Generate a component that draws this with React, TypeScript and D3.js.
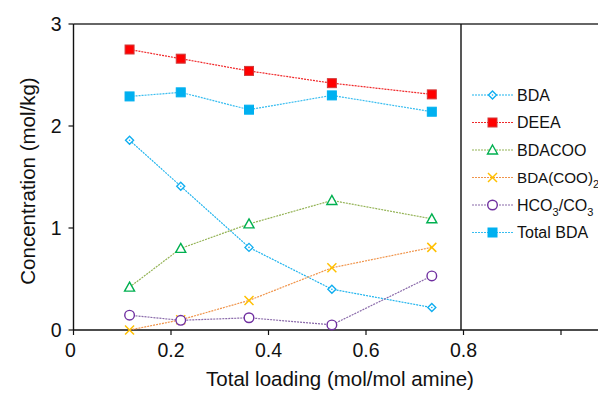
import React from "react";
import * as d3 from "d3";

const loading = [0.115, 0.22, 0.36, 0.53, 0.735];
const bda = [1.86, 1.41, 0.81, 0.4, 0.22];
const deea = [2.75, 2.66, 2.54, 2.42, 2.31];
const bdacoo = [0.42, 0.8, 1.04, 1.27, 1.09];
const bdacoo2 = [0.0, 0.1, 0.29, 0.61, 0.81];
const hco3 = [0.145, 0.095, 0.12, 0.05, 0.53];
const totalBda = [2.29, 2.33, 2.16, 2.3, 2.14];

const xTicks = [0, 0.2, 0.4, 0.6, 0.8, 1.0];
const xTickLabels = ["0", "0.2", "0.4", "0.6", "0.8", ""];
const yTicks = [0, 1, 2, 3];

type Series = {
  name: string;
  values: number[];
  line: string;
  marker: string;
  shape: "diamond" | "square" | "triangle" | "x" | "circle";
  filled: boolean;
};

const series: Series[] = [
  { name: "BDA", values: bda, line: "#1fb4ee", marker: "#10aef0", shape: "diamond", filled: false },
  { name: "DEEA", values: deea, line: "#f0282a", marker: "#ff0000", shape: "square", filled: true },
  { name: "BDACOO", values: bdacoo, line: "#94b356", marker: "#00b050", shape: "triangle", filled: false },
  { name: "BDA(COO)2", values: bdacoo2, line: "#f0944a", marker: "#ffc000", shape: "x", filled: false },
  { name: "HCO3/CO3", values: hco3, line: "#8a6aaa", marker: "#7030a0", shape: "circle", filled: false },
  { name: "Total BDA", values: totalBda, line: "#38bdf0", marker: "#00b0f0", shape: "square", filled: true },
];

const FONT = "'Liberation Sans', Arial, Helvetica, sans-serif";

function Marker({ s, cx, cy }: { s: Series; cx: number; cy: number }) {
  const c = s.marker;
  switch (s.shape) {
    case "diamond": {
      const r = 4;
      return (
        <g>
          <polygon
            points={`${cx},${cy - r} ${cx + r},${cy} ${cx},${cy + r} ${cx - r},${cy}`}
            fill="white"
            stroke={c}
            strokeWidth={1.4}
          />
          <circle cx={cx} cy={cy} r={0.8} fill={c} />
        </g>
      );
    }
    case "square": {
      const r = 4.5;
      return (
        <rect
          x={cx - r}
          y={cy - r}
          width={2 * r}
          height={2 * r}
          fill={c}
          stroke={s.name === "DEEA" ? "#d23a3a" : c}
          strokeWidth={1}
        />
      );
    }
    case "triangle": {
      const r = 5;
      return (
        <polygon
          points={`${cx},${cy - r} ${cx + r},${cy + r * 0.8} ${cx - r},${cy + r * 0.8}`}
          fill="white"
          stroke={c}
          strokeWidth={1.4}
        />
      );
    }
    case "x": {
      const r = 4.5;
      return (
        <g stroke={c} strokeWidth={1.5}>
          <line x1={cx - r} y1={cy - r} x2={cx + r} y2={cy + r} />
          <line x1={cx - r} y1={cy + r} x2={cx + r} y2={cy - r} />
        </g>
      );
    }
    case "circle":
      return <circle cx={cx} cy={cy} r={4.8} fill="white" stroke={c} strokeWidth={1.4} />;
  }
}

function LegendLabel({ name }: { name: string }) {
  if (name === "BDA(COO)2") {
    return (
      <>
        BDA(COO)
        <tspan dy={5} fontSize={11}>2</tspan>
      </>
    );
  }
  if (name === "HCO3/CO3") {
    return (
      <>
        HCO
        <tspan dy={5} fontSize={11}>3</tspan>
        <tspan dy={-5}>/CO</tspan>
        <tspan dy={5} fontSize={11}>3</tspan>
      </>
    );
  }
  return <>{name}</>;
}

export default function App() {
  const W = 598;
  const H = 394;
  const x = d3.scaleLinear().domain([0, 1]).range([73.5, 561]);
  const y = d3.scaleLinear().domain([0, 3]).range([330, 24]);
  const xEnd = 598;

  const lineGen = d3
    .line<[number, number]>()
    .x((d) => x(d[0]))
    .y((d) => y(d[1]));

  const legendY = [95, 122.5, 150, 177.5, 205, 232.5];

  return (
    <svg
      width={W}
      height={H}
      style={{ position: "absolute", left: 0, top: 0, background: "white" }}
      fontFamily={FONT}
    >
      <rect width={W} height={H} fill="white" />
      {/* frame */}
      <line x1={x(0)} y1={y(3)} x2={xEnd} y2={y(3)} stroke="#333" strokeWidth={1.6} />
      <line x1={x(0)} y1={y(0)} x2={xEnd} y2={y(0)} stroke="#111" strokeWidth={1.4} />
      <line x1={x(0)} y1={y(0)} x2={x(0)} y2={y(3)} stroke="#111" strokeWidth={1.4} />
      <line x1={461} y1={y(3)} x2={461} y2={y(0)} stroke="#111" strokeWidth={1.4} />

      {/* y ticks */}
      {yTicks.map((t) => (
        <g key={"y" + t}>
          <line x1={x(0) - 5} x2={x(0)} y1={y(t)} y2={y(t)} stroke="#111" strokeWidth={1.2} />
          <text x={x(0) - 12} y={y(t)} dy="0.35em" textAnchor="end" fontSize={19.5} fill="#111">
            {t}
          </text>
        </g>
      ))}
      {/* x ticks */}
      {xTicks.map((t, i) => (
        <g key={"x" + t}>
          <line x1={x(t)} x2={x(t)} y1={y(0)} y2={y(0) + 5} stroke="#111" strokeWidth={1.2} />
          <text x={x(t) - (i === 0 ? 3 : 0)} y={357} textAnchor="middle" fontSize={19.5} fill="#111">
            {xTickLabels[i]}
          </text>
        </g>
      ))}

      <text
        transform={`translate(35, 181) rotate(-90)`}
        textAnchor="middle"
        fontSize={20.5}
        fill="#111"
      >
        Concentration (mol/kg)
      </text>
      <text x={340} y={386} textAnchor="middle" fontSize={20.5} fill="#111">
        Total loading (mol/mol amine)
      </text>

      {/* series */}
      {series.map((s) => {
        const pts = loading.map((l, i) => [l, s.values[i]] as [number, number]);
        return (
          <g key={s.name}>
            <path
              d={lineGen(pts) || ""}
              fill="none"
              stroke={s.line}
              strokeWidth={1.2}
              strokeDasharray="2,1"
            />
            {pts.map((p, i) => (
              <Marker key={i} s={s} cx={x(p[0])} cy={y(p[1])} />
            ))}
          </g>
        );
      })}

      {/* legend */}
      {series.map((s, i) => (
        <g key={"lg" + s.name}>
          <line
            x1={472}
            x2={513}
            y1={legendY[i]}
            y2={legendY[i]}
            stroke={s.line}
            strokeWidth={1.2}
            strokeDasharray="2,1"
          />
          <Marker s={s} cx={492.5} cy={legendY[i]} />
          <text
            x={517}
            y={legendY[i]}
            dy="0.36em"
            fontSize={s.name === "BDA(COO)2" ? 15.2 : 16}
            fill="#111"
          >
            <LegendLabel name={s.name} />
          </text>
        </g>
      ))}
    </svg>
  );
}
